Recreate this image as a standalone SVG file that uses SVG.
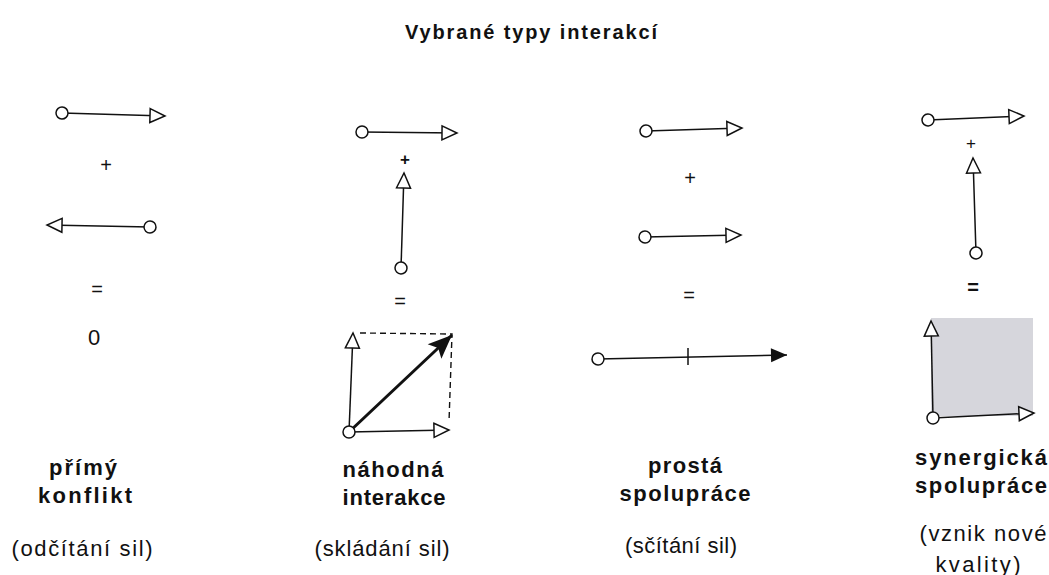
<svg xmlns="http://www.w3.org/2000/svg" width="1049" height="575" viewBox="0 0 1049 575">
<style>
text{font-family:"Liberation Sans",Arial,Helvetica,sans-serif;fill:#111;text-anchor:middle}
.t{font-size:20px;font-weight:bold}
.b{font-size:22px;font-weight:bold}
.r{font-size:22px}
.op{font-size:20px}
.v{fill:none;stroke:#111;stroke-width:1.5;marker-start:url(#dot);marker-end:url(#open)}
.v2{fill:none;stroke:#111;stroke-width:1.5;marker-end:url(#open)}
.dash{fill:none;stroke:#111;stroke-width:1.4;stroke-dasharray:6 4}
</style>
<defs>
<marker id="open" markerUnits="userSpaceOnUse" markerWidth="20" markerHeight="18" refX="16" refY="8" orient="auto" overflow="visible">
<path d="M1,1 L16,8 L1,15 Z" fill="#fff" stroke="#111" stroke-width="1.5" stroke-linejoin="miter"/>
</marker>
<marker id="dot" markerUnits="userSpaceOnUse" markerWidth="16" markerHeight="16" refX="8" refY="8" orient="auto" overflow="visible">
<circle cx="8" cy="8" r="6" fill="#fff" stroke="#111" stroke-width="1.5"/>
</marker>
<marker id="solidBig" markerUnits="userSpaceOnUse" markerWidth="26" markerHeight="22" refX="24" refY="10" orient="auto" overflow="visible">
<path d="M0,0 L24,10 L0,20 L5,10 Z" fill="#111"/>
</marker>
<marker id="solid" markerUnits="userSpaceOnUse" markerWidth="18" markerHeight="14" refX="16" refY="7" orient="auto" overflow="visible">
<path d="M0,0 L16,7 L0,14 Z" fill="#111"/>
</marker>
</defs>
<rect width="1049" height="575" fill="#fff"/>

<g id="title">
<text class="t" x="531" y="39" textLength="252" lengthAdjust="spacing">Vybrané typy interakcí</text>
</g>

<g id="panel-primy-konflikt">
<text class="op" x="106" y="172">+</text>
<text class="op" x="97" y="296">=</text>
<text x="94" y="345" style="font-size:22px">0</text>
<text class="b" x="83" y="475" textLength="68" lengthAdjust="spacing">přímý</text>
<text class="b" x="85" y="503" textLength="94" lengthAdjust="spacing">konflikt</text>
<text class="r" x="82" y="556" textLength="141" lengthAdjust="spacing">(odčítání sil)</text>
</g>

<g id="panel-nahodna-interakce">
<text class="op" x="405" y="165" style="font-weight:bold;font-size:17px">+</text>
<text class="op" x="400" y="308">=</text>
<text class="b" x="393" y="477" textLength="101" lengthAdjust="spacing">náhodná</text>
<text class="b" x="394" y="505" textLength="103" lengthAdjust="spacing">interakce</text>
<text class="r" x="382" y="556" textLength="135" lengthAdjust="spacing">(skládání sil)</text>
</g>

<g id="panel-prosta-spoluprace">
<text class="op" x="690" y="185">+</text>
<text class="op" x="689" y="302">=</text>
<text class="b" x="685" y="473" textLength="74" lengthAdjust="spacing">prostá</text>
<text class="b" x="685" y="501" textLength="131" lengthAdjust="spacing">spolupráce</text>
<text class="r" x="681" y="553" textLength="112" lengthAdjust="spacing">(sčítání sil)</text>
</g>

<g id="panel-synergicka-spoluprace">
<rect x="931" y="318" width="102" height="98" fill="#d6d6dc"/>
<text class="op" x="971" y="149" style="font-size:17px">+</text>
<text class="op" x="973" y="294" style="font-weight:bold">=</text>
<text class="b" x="981" y="465" textLength="132" lengthAdjust="spacing">synergická</text>
<text class="b" x="981" y="493" textLength="132" lengthAdjust="spacing">spolupráce</text>
<text class="r" x="983" y="541" textLength="127" lengthAdjust="spacing">(vznik nové</text>
<text class="r" x="978" y="572" textLength="85" lengthAdjust="spacing">kvality)</text>
</g>

<g id="connectors">
<!-- panel 1 -->
<path class="v" d="M62,113 L165,116"/>
<path class="v" d="M150,227 L47,225"/>
<!-- panel 2 -->
<path class="v" d="M362,132 L457,133"/>
<path class="v" d="M401,268 L404,173"/>
<path class="dash" d="M360,333 L452,334 L449,422"/>
<path class="v2" d="M349,432 L353,333"/>
<path class="v2" d="M349,432 L449,430"/>
<path d="M349,432 L452,335" fill="none" stroke="#111" stroke-width="3" marker-end="url(#solidBig)"/>
<circle cx="349" cy="432" r="6" fill="#fff" stroke="#111" stroke-width="1.5"/>
<!-- panel 3 -->
<path class="v" d="M646,131 L742,128"/>
<path class="v" d="M645,237 L741,235"/>
<path d="M598,359 L787,355" fill="none" stroke="#111" stroke-width="1.6" marker-start="url(#dot)" marker-end="url(#solid)"/>
<path d="M688,348 L688,365" stroke="#111" stroke-width="1.5"/>
<!-- panel 4 -->
<path class="v" d="M928,120 L1024,116"/>
<path class="v" d="M976,253 L973,158"/>
<path class="v2" d="M933,418 L931,321"/>
<path class="v" d="M933,418 L1034,413"/>
</g>
</svg>
